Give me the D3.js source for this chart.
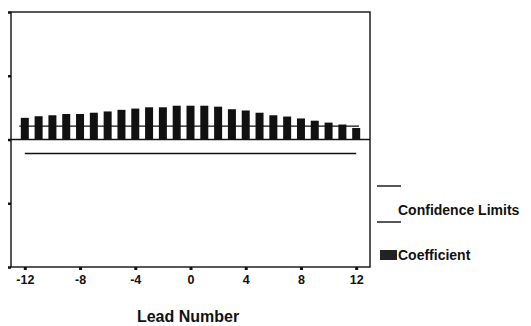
<!DOCTYPE html>
<html>
<head>
<meta charset="utf-8">
<script src="https://cdn.jsdelivr.net/npm/d3@7"></script>
<style>
  html, body { margin: 0; padding: 0; background: #fff; }
  svg { display: block; }
  text { font-family: Arial, "Liberation Sans", sans-serif; font-weight: bold; fill: #111; }
</style>
</head>
<body>
<svg id="chart" width="531" height="326"></svg>
<script>
// Lead numbers and estimated coefficients
const leads = d3.range(-12, 13);
const coefficients = [0.34, 0.365, 0.38, 0.40, 0.40, 0.42, 0.44, 0.465, 0.485, 0.505, 0.505, 0.53,
                      0.53, 0.53, 0.515, 0.475, 0.455, 0.42, 0.38, 0.36, 0.33, 0.295, 0.265, 0.235, 0.18];
// Confidence limits (constant across leads)
const upperLimit = 0.21;
const lowerLimit = -0.22;
const xTicks = [-12, -8, -4, 0, 4, 8, 12];
const yTicks = [-2, -1, 0, 1, 2];

const svg = d3.select("#chart");
const plotLeft = 11, plotTop = 12, plotRight = 370, plotBottom = 267;

const x = d3.scaleLinear().domain([-13, 13]).range([plotLeft, plotRight]);
const y = d3.scaleLinear().domain([-2, 2]).range([plotBottom, plotTop]);
const barW = 8;

// Bars
svg.append("g").selectAll("rect")
  .data(leads.map((l, i) => ({ lead: l, v: coefficients[i] })))
  .join("rect")
  .attr("x", d => x(d.lead) - barW / 2)
  .attr("width", barW)
  .attr("y", d => y(Math.max(0, d.v)))
  .attr("height", d => Math.abs(y(d.v) - y(0)))
  .attr("fill", "#111");

// Confidence limit lines
const line = svg.append("g").attr("stroke", "#111").attr("stroke-width", 1.4);
line.append("line")
  .attr("x1", x(-12.4)).attr("x2", x(12.2))
  .attr("y1", y(upperLimit)).attr("y2", y(upperLimit));
line.append("line")
  .attr("x1", x(-12)).attr("x2", x(12))
  .attr("y1", y(lowerLimit)).attr("y2", y(lowerLimit));

// Zero line
svg.append("line")
  .attr("x1", plotLeft).attr("x2", plotRight)
  .attr("y1", y(0)).attr("y2", y(0))
  .attr("stroke", "#111").attr("stroke-width", 1.6);

// Frame
svg.append("rect")
  .attr("x", plotLeft).attr("y", plotTop)
  .attr("width", plotRight - plotLeft).attr("height", plotBottom - plotTop)
  .attr("fill", "none").attr("stroke", "#111").attr("stroke-width", 1.4);

// Y axis: tick marks only, no labels
const yAxis = d3.axisLeft(y).tickValues(yTicks).tickSize(3).tickFormat("");
const gy = svg.append("g").attr("transform", `translate(${plotLeft},0)`).call(yAxis);
gy.select(".domain").remove();
gy.selectAll(".tick line").attr("stroke", "#111").attr("stroke-width", 2.5);

// X axis
const xAxis = d3.axisBottom(x).tickValues(xTicks).tickSize(3).tickPadding(5).tickFormat(d3.format("d"));
const gx = svg.append("g").attr("transform", `translate(0,${plotBottom})`).call(xAxis);
gx.select(".domain").remove();
gx.selectAll(".tick line").attr("stroke", "#111").attr("stroke-width", 3);
gx.selectAll(".tick text")
  .attr("font-size", 12.5).attr("font-family", "Arial, 'Liberation Sans', sans-serif")
  .attr("font-weight", "bold").attr("fill", "#111")
  .text(d => d < 0 ? "-" + Math.abs(d) : d);

// X axis title
svg.append("text")
  .attr("x", 188).attr("y", 322)
  .attr("text-anchor", "middle")
  .attr("font-size", 16)
  .text("Lead Number");

// Legend
const lg = svg.append("g");
lg.append("line").attr("x1", 377).attr("x2", 401).attr("y1", 186).attr("y2", 186)
  .attr("stroke", "#111").attr("stroke-width", 1.4);
lg.append("line").attr("x1", 377).attr("x2", 401).attr("y1", 222).attr("y2", 222)
  .attr("stroke", "#111").attr("stroke-width", 1.4);
lg.append("text").attr("x", 398).attr("y", 215).attr("font-size", 14).text("Confidence Limits");
lg.append("rect").attr("x", 380).attr("y", 250).attr("width", 17).attr("height", 10).attr("fill", "#222");
lg.append("text").attr("x", 398).attr("y", 259.5).attr("font-size", 14).text("Coefficient");
</script>
</body>
</html>
